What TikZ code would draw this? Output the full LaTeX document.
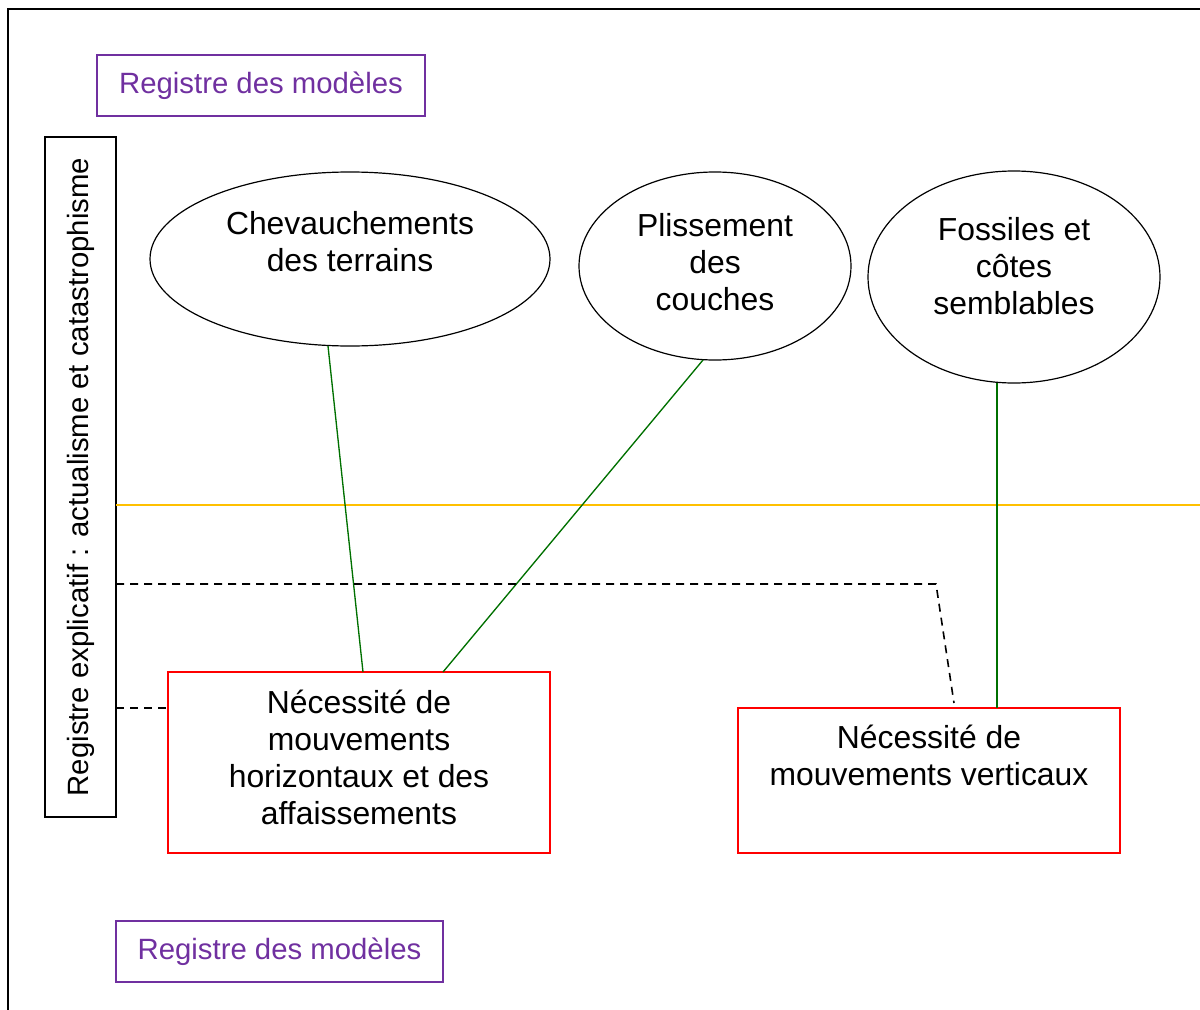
\documentclass[tikz,border=0pt]{standalone}
\usepackage{fontspec}
\setmainfont{Liberation Sans}
\usetikzlibrary{shapes.geometric}
\definecolor{purp}{HTML}{7030A0}
\definecolor{gline}{HTML}{007000}
\definecolor{oline}{HTML}{FFC000}
\tikzset{
  txt/.style={font=\fontsize{23.9}{27.75}\selectfont, align=center, inner sep=0pt},
  stxt/.style={font=\fontsize{22}{27.75}\selectfont, align=center, inner sep=0pt},
  purpbox/.style={draw=purp, line width=1.1pt, text=purp, inner sep=0pt, minimum width=#1*0.75pt, minimum height=61*0.75pt, font=\fontsize{22}{27.75}\selectfont},
  redbox/.style={draw=red, line width=1.1pt, inner sep=0pt},
  ell/.style={draw, ellipse, line width=0.9pt, inner sep=0pt},
  conn/.style={draw=gline, line width=1pt},
  dashconn/.style={draw=black, line width=1.2pt, dash pattern=on 6pt off 4.5pt}
}
\begin{document}
\begin{tikzpicture}[x=0.75pt,y=-0.75pt]
\useasboundingbox (0,0) rectangle (1200,1010);
% frame
\draw[line width=1.2pt] (8,1010) -- (8,9) -- (1200,9);
% purple boxes
\node[purpbox=328] (m1) at (261,85.5) {Registre des modèles};
\node[purpbox=327] (m2) at (279.5,951.5) {Registre des modèles};
% vertical box
\node[draw, line width=1pt, minimum width=71*0.75pt, minimum height=680*0.75pt, inner sep=0pt] (vb) at (80.5,477) {};
\node[stxt, rotate=90] (vt) at (81,477) {Registre explicatif : actualisme et catastrophisme};
% ellipses
\node[ell, minimum width=400*0.75pt, minimum height=174*0.75pt] (e1) at (350,259) {};
\node[txt] (t1) at (350,241.5) {Chevauchements\\des terrains};
\node[ell, minimum width=272*0.75pt, minimum height=188*0.75pt] (e2) at (715,266) {};
\node[txt] (t2) at (715,262.5) {Plissement\\des\\couches};
\node[ell, minimum width=292*0.75pt, minimum height=212*0.75pt] (e3) at (1014,277) {};
\node[txt] (t3) at (1014,266) {Fossiles et\\côtes\\semblables};
% red boxes
\node[redbox, minimum width=382*0.75pt, minimum height=181*0.75pt] (b1) at (359,762.5) {};
\node[txt] (bt1) at (359,757) {Nécessité de\\mouvements\\horizontaux et des\\affaissements};
\node[redbox, minimum width=382*0.75pt, minimum height=145*0.75pt] (b2) at (929,780.5) {};
\node[txt] (bt2) at (929,755.5) {Nécessité de\\mouvements verticaux};
% orange line
\coordinate (o1) at (116,505);
\coordinate (o2) at (1200,505);
\draw[draw=oline, line width=1.1pt] (o1) -- (o2);
% green connectors
\coordinate (c1a) at (328,346);
\coordinate (c1b) at (363,672);
\coordinate (c2a) at (703,360);
\coordinate (c2b) at (443,672);
\coordinate (c3a) at (997,383);
\coordinate (c3b) at (997,708);
\draw[conn] (c1a) -- (c1b);
\draw[conn] (c2a) -- (c2b);
\draw[conn] (c3a) -- (c3b);
% dashed connectors
\coordinate (d1) at (116,584);
\coordinate (d2) at (936,584);
\coordinate (d3) at (954,703);
\draw[dashconn] (d1) -- (d2) -- (d3);
\coordinate (d4) at (116,708);
\coordinate (d5) at (167,708);
\draw[dashconn] (d4) -- (d5);
\end{tikzpicture}
\end{document}
